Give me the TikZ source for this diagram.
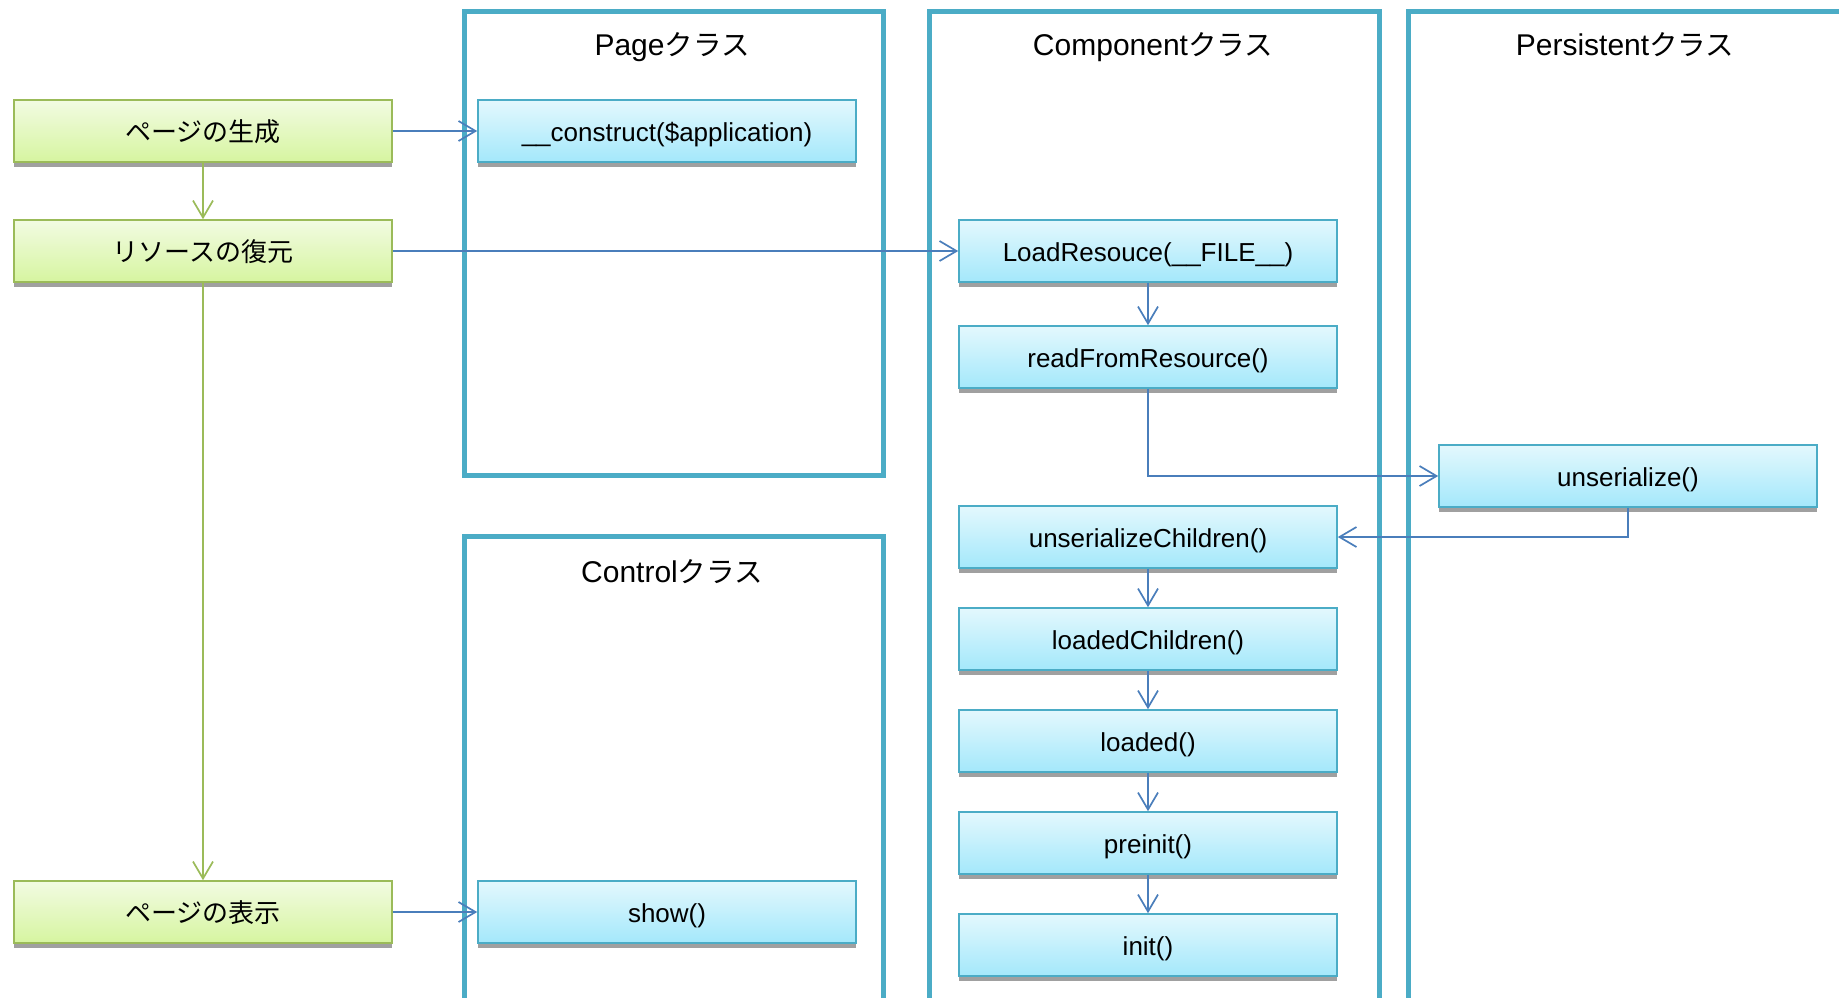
\documentclass[tikz,border=0pt]{standalone}
\usepackage{fontspec}
\setmainfont{Liberation Sans}
\newfontfamily\jp{Noto Sans CJK JP}
\usetikzlibrary{arrows.meta,shadows}
\definecolor{frameteal}{RGB}{75,172,198}
\definecolor{arrowblue}{RGB}{74,126,187}
\definecolor{leafgreen}{RGB}{155,187,89}
\definecolor{bluetop}{RGB}{227,248,253}
\definecolor{bluebot}{RGB}{164,232,251}
\definecolor{greentop}{RGB}{242,251,226}
\definecolor{greenbot}{RGB}{214,245,160}
\definecolor{shadowgray}{RGB}{160,160,160}
\tikzset{
  basebox/.style={rectangle, minimum width=378pt, minimum height=62pt, inner sep=0pt,
    text height=21pt, text depth=0pt,
    line width=1.6pt, font=\fontsize{26}{30}\selectfont,
    general shadow={shadow yshift=-5pt, fill=shadowgray}},
  bluebox/.style={basebox, draw=frameteal, top color=bluetop, bottom color=bluebot},
  greenbox/.style={basebox, draw=leafgreen, top color=greentop, bottom color=greenbot},
  frameline/.style={draw=frameteal, line width=5pt},
  frametitle/.style={font=\fontsize{30}{34}\selectfont, inner sep=0pt, text height=24pt, text depth=0pt},
  bluearrow/.style={draw=arrowblue, line width=1.7pt, -{Straight Barb[length=17pt,width=20pt,line width=1.7pt]}},
  greenarrow/.style={draw=leafgreen, line width=1.7pt, -{Straight Barb[length=17pt,width=20pt,line width=1.7pt]}}
}
\newcommand{\kurasu}{{\jp\fontsize{28.5}{34}\selectfont クラス}}
\begin{document}
\begin{tikzpicture}[x=1pt,y=-1pt]
\useasboundingbox (0,0) rectangle (1839,997);
\fill[white] (0,0) rectangle (1839,997);
\clip (0,0) rectangle (1839,997);

% class frames
\draw[frameline] (464,11) rectangle (883,475);
\draw[frameline] (464,536) rectangle (883,1020);
\draw[frameline] (929,11) rectangle (1379,1020);
\draw[frameline] (1408,11) rectangle (1870,1020);

\node[frametitle] (tpage) at (672,43) {Page\kurasu};
\node[frametitle] (tcontrol) at (672,570) {Control\kurasu};
\node[frametitle] (tcomp) at (1153,43) {Component\kurasu};
\node[frametitle] (tpers) at (1625,43) {Persistent\kurasu};

% green process boxes
\node[greenbox] (g1) at (203,131) {\jp ページの生成};
\node[greenbox] (g2) at (203,251) {\jp リソースの復元};
\node[greenbox] (g3) at (203,912) {\jp ページの表示};

% blue method boxes
\node[bluebox] (cons) at (667,131) {\textunderscore\textunderscore construct(\$application)};
\node[bluebox] (show) at (667,912) {show()};
\node[bluebox] (load) at (1148,251) {LoadResouce(\textunderscore\textunderscore FILE\textunderscore\textunderscore)};
\node[bluebox] (read) at (1148,357) {readFromResource()};
\node[bluebox] (unser) at (1628,476) {unserialize()};
\node[bluebox] (uchild) at (1148,537) {unserializeChildren()};
\node[bluebox] (lchild) at (1148,639) {loadedChildren()};
\node[bluebox] (loaded) at (1148,741) {loaded()};
\node[bluebox] (preinit) at (1148,843) {preinit()};
\node[bluebox] (init) at (1148,945) {init()};

% connectors
\draw[greenarrow] (g1.south) -- (g2.north);
\draw[greenarrow] (g2.south) -- (g3.north);
\draw[bluearrow] (g1.east) -- (cons.west);
\draw[bluearrow] (g2.east) -- (load.west);
\draw[bluearrow] (g3.east) -- (show.west);
\draw[bluearrow] (load.south) -- (read.north);
\draw[bluearrow] (read.south) |- (unser.west);
\draw[bluearrow] (unser.south) |- (uchild.east);
\draw[bluearrow] (uchild.south) -- (lchild.north);
\draw[bluearrow] (lchild.south) -- (loaded.north);
\draw[bluearrow] (loaded.south) -- (preinit.north);
\draw[bluearrow] (preinit.south) -- (init.north);
\end{tikzpicture}
\end{document}
